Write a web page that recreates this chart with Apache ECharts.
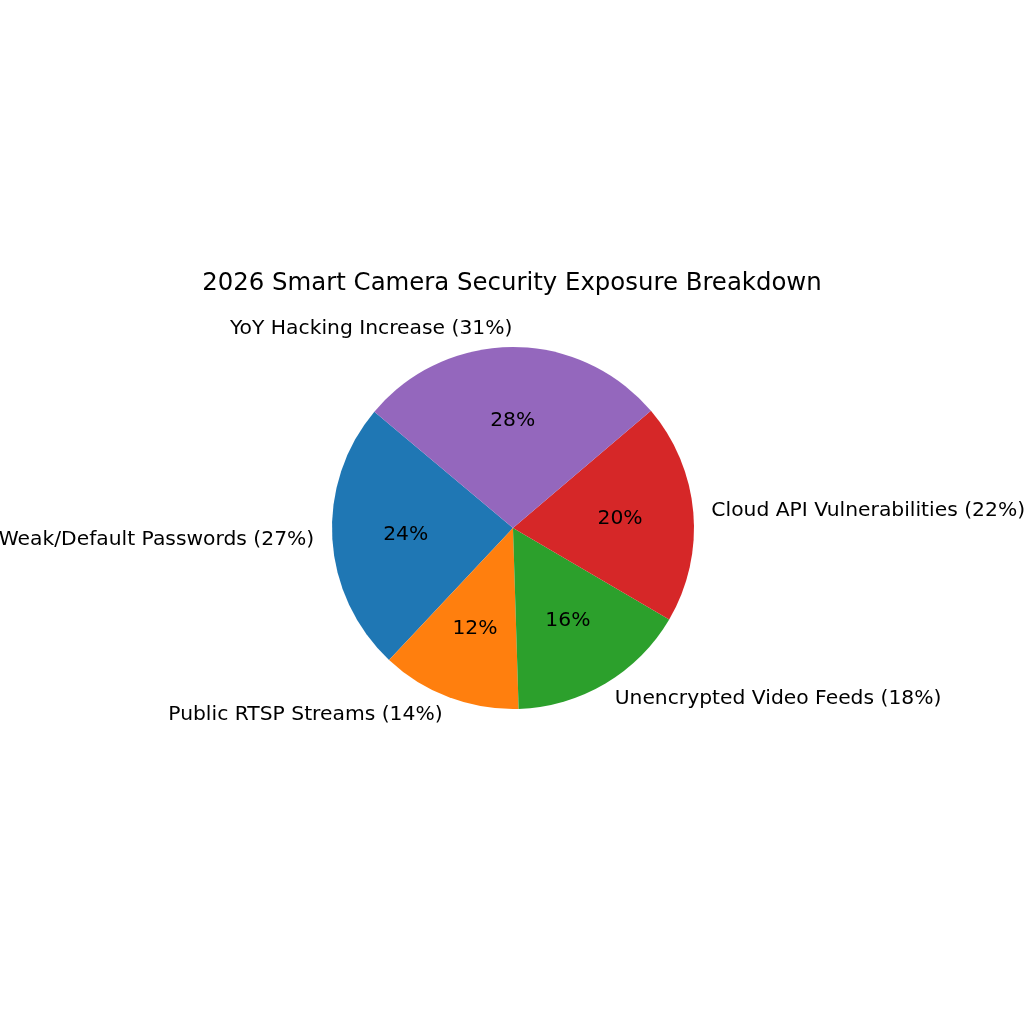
<!DOCTYPE html>
<html>
<head>
<meta charset="utf-8">
<script src="https://cdn.jsdelivr.net/npm/echarts@6/dist/echarts.min.js"></script>
<style>html,body{margin:0;padding:0;background:#fff;}#c{width:1024px;height:1024px;}</style>
</head>
<body>
<div id="c"></div>
<script>
const categories = ['Weak/Default Passwords', 'Public RTSP Streams', 'Unencrypted Video Feeds', 'Cloud API Vulnerabilities', 'YoY Hacking Increase'];
const values = [27, 14, 18, 22, 31];
const colors = ['#1f77b4', '#ff7f0e', '#2ca02c', '#d62728', '#9467bd'];
const titleText = '2026 Smart Camera Security Exposure Breakdown';

function roundHalfEven(x) {
  const f = Math.floor(x);
  const d = x - f;
  if (Math.abs(d - 0.5) < 1e-9) return (f % 2 === 0) ? f : f + 1;
  return Math.round(x);
}
const total = values.reduce((a, b) => a + b, 0);
const R = 181;
const FONT = 'DejaVu Sans';
const data = categories.map((c, i) => ({ name: c, value: values[i], itemStyle: { color: colors[i] } }));

const chart = echarts.init(document.getElementById('c'), null, { renderer: 'canvas' });
chart.setOption({
  animation: false,
  backgroundColor: '#ffffff',
  title: {
    text: titleText, left: 'center', top: 267,
    textStyle: { fontFamily: FONT, fontSize: 24.4, fontWeight: 'normal', color: '#000' }
  },
  series: [
    {
      type: 'pie', center: [513, 528], radius: [0, R],
      startAngle: 140, clockwise: false, avoidLabelOverlap: false, silent: true,
      data: data,
      label: {
        show: true, position: 'outside', distanceToLabelLine: 0,
        formatter: p => p.name + ' (' + p.value + '%)',
        fontFamily: FONT, fontSize: 20.3, color: '#000'
      },
      labelLine: { show: false, length: R * 0.1, length2: 0 },
      labelLayout: { hideOverlap: false },
      emphasis: { disabled: true }
    },
    {
      type: 'pie', center: [513, 528], radius: [28, R],
      startAngle: 140, clockwise: false, avoidLabelOverlap: false, silent: true,
      data: categories.map((c, i) => ({ name: c, value: values[i] })),
      itemStyle: { color: 'rgba(0,0,0,0)' },
      label: {
        show: true, position: 'inside',
        formatter: p => roundHalfEven(p.value / total * 100) + '%',
        fontFamily: FONT, fontSize: 20.3, color: '#000'
      },
      labelLine: { show: false },
      labelLayout: { hideOverlap: false },
      emphasis: { disabled: true }
    }
  ]
});
</script>
</body>
</html>
